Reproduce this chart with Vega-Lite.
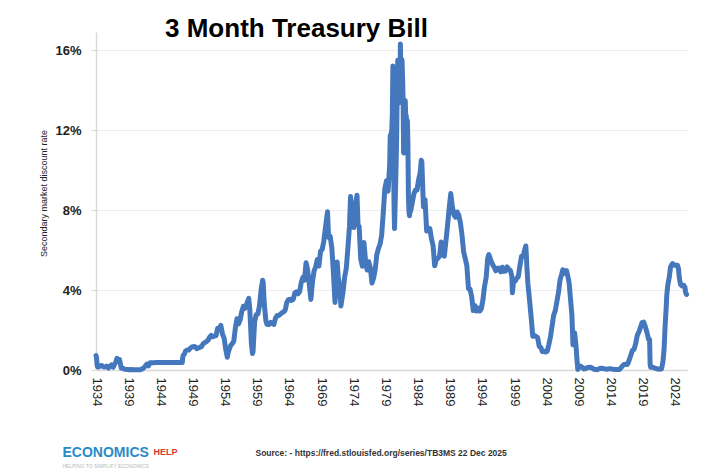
{
  "$schema": "https://vega.github.io/schema/vega-lite/v6.json",
  "width": 591,
  "height": 338,
  "autosize": {"type": "none"},
  "padding": {"left": 96, "top": 32, "right": 33, "bottom": 105},
  "background": "white",
  "title": {"text": "3 Month Treasury Bill", "font": "Liberation Sans", "fontSize": 26, "fontWeight": "bold", "color": "#000000", "anchor": "middle", "frame": "group", "dx": -95, "offset": -31, "baseline": "alphabetic"},
  "data": {"values": [
    {"t":1934.0,"r":0.72},{"t":1934.083,"r":0.62},{"t":1934.167,"r":0.24},{"t":1934.25,"r":0.15},{"t":1934.417,"r":0.15},{"t":1934.667,"r":0.21},{"t":1934.917,"r":0.23},
    {"t":1935.167,"r":0.15},{"t":1935.417,"r":0.15},{"t":1935.667,"r":0.20},{"t":1935.917,"r":0.10},
    {"t":1936.167,"r":0.18},{"t":1936.417,"r":0.26},{"t":1936.667,"r":0.14},{"t":1936.917,"r":0.30},
    {"t":1937.083,"r":0.41},{"t":1937.25,"r":0.58},{"t":1937.417,"r":0.41},{"t":1937.667,"r":0.52},{"t":1937.917,"r":0.10},
    {"t":1938.167,"r":0.09},{"t":1938.417,"r":0.04},{"t":1938.917,"r":0.03},
    {"t":1939.167,"r":0.01},{"t":1939.417,"r":0.02},{"t":1939.917,"r":0.01},
    {"t":1940.417,"r":0.01},{"t":1940.917,"r":0.01},
    {"t":1941.417,"r":0.10},{"t":1941.917,"r":0.29},
    {"t":1942.167,"r":0.21},{"t":1942.417,"r":0.36},{"t":1942.917,"r":0.36},
    {"t":1943.5,"r":0.37},{"t":1944.5,"r":0.37},{"t":1945.5,"r":0.37},{"t":1946.5,"r":0.37},{"t":1947.417,"r":0.38},
    {"t":1947.5,"r":0.66},{"t":1947.583,"r":0.74},{"t":1947.75,"r":0.80},{"t":1947.917,"r":0.95},
    {"t":1948.167,"r":1.00},{"t":1948.417,"r":1.00},{"t":1948.667,"r":1.09},{"t":1948.917,"r":1.15},
    {"t":1949.167,"r":1.17},{"t":1949.417,"r":1.16},{"t":1949.667,"r":1.07},{"t":1949.917,"r":1.10},
    {"t":1950.167,"r":1.14},{"t":1950.417,"r":1.17},{"t":1950.667,"r":1.32},{"t":1950.917,"r":1.37},
    {"t":1951.167,"r":1.42},{"t":1951.417,"r":1.49},{"t":1951.667,"r":1.64},{"t":1951.917,"r":1.73},
    {"t":1952.167,"r":1.66},{"t":1952.417,"r":1.70},{"t":1952.667,"r":1.71},{"t":1952.917,"r":2.09},
    {"t":1953.167,"r":2.08},{"t":1953.417,"r":2.23},{"t":1953.667,"r":1.79},{"t":1953.917,"r":1.60},
    {"t":1954.167,"r":1.05},{"t":1954.417,"r":0.64},{"t":1954.583,"r":0.92},{"t":1954.917,"r":1.21},
    {"t":1955.167,"r":1.31},{"t":1955.417,"r":1.43},{"t":1955.667,"r":2.09},{"t":1955.917,"r":2.56},
    {"t":1956.167,"r":2.31},{"t":1956.417,"r":2.51},{"t":1956.667,"r":2.92},{"t":1956.917,"r":3.18},
    {"t":1957.167,"r":3.08},{"t":1957.417,"r":3.29},{"t":1957.75,"r":3.58},{"t":1957.917,"r":3.04},
    {"t":1958.167,"r":1.30},{"t":1958.333,"r":0.83},{"t":1958.417,"r":0.91},{"t":1958.667,"r":2.43},{"t":1958.917,"r":2.77},
    {"t":1959.167,"r":2.80},{"t":1959.417,"r":3.20},{"t":1959.667,"r":3.99},{"t":1959.917,"r":4.49},
    {"t":1960.0,"r":4.35},{"t":1960.167,"r":3.31},{"t":1960.417,"r":2.46},{"t":1960.583,"r":2.29},{"t":1960.917,"r":2.27},
    {"t":1961.167,"r":2.38},{"t":1961.417,"r":2.33},{"t":1961.667,"r":2.28},{"t":1961.917,"r":2.60},
    {"t":1962.167,"r":2.72},{"t":1962.417,"r":2.73},{"t":1962.667,"r":2.79},{"t":1962.917,"r":2.86},
    {"t":1963.167,"r":2.90},{"t":1963.417,"r":2.99},{"t":1963.667,"r":3.38},{"t":1963.917,"r":3.52},
    {"t":1964.167,"r":3.54},{"t":1964.417,"r":3.48},{"t":1964.667,"r":3.53},{"t":1964.917,"r":3.85},
    {"t":1965.167,"r":3.91},{"t":1965.417,"r":3.81},{"t":1965.667,"r":3.92},{"t":1965.917,"r":4.38},
    {"t":1966.167,"r":4.63},{"t":1966.417,"r":4.50},{"t":1966.667,"r":5.36},{"t":1966.917,"r":5.00},
    {"t":1967.167,"r":4.26},{"t":1967.417,"r":3.53},{"t":1967.667,"r":4.42},{"t":1967.917,"r":4.96},
    {"t":1968.167,"r":5.17},{"t":1968.417,"r":5.52},{"t":1968.667,"r":5.20},{"t":1968.917,"r":5.94},
    {"t":1969.167,"r":6.02},{"t":1969.417,"r":6.43},{"t":1969.667,"r":7.09},{"t":1969.917,"r":7.72},
    {"t":1970.0,"r":7.91},{"t":1970.167,"r":6.63},{"t":1970.417,"r":6.68},{"t":1970.667,"r":6.12},{"t":1970.917,"r":4.87},
    {"t":1971.167,"r":3.38},{"t":1971.5,"r":5.40},{"t":1971.667,"r":4.69},{"t":1971.917,"r":4.01},
    {"t":1972.083,"r":3.20},{"t":1972.417,"r":3.91},{"t":1972.667,"r":4.66},{"t":1972.917,"r":5.07},
    {"t":1973.167,"r":6.09},{"t":1973.417,"r":7.19},{"t":1973.583,"r":8.67},{"t":1973.667,"r":8.29},{"t":1973.917,"r":7.45},
    {"t":1974.083,"r":7.12},{"t":1974.167,"r":7.96},{"t":1974.333,"r":8.23},{"t":1974.583,"r":8.74},{"t":1974.75,"r":7.24},{"t":1974.917,"r":7.18},
    {"t":1975.167,"r":5.54},{"t":1975.417,"r":5.19},{"t":1975.667,"r":6.38},{"t":1975.917,"r":5.44},
    {"t":1976.167,"r":5.00},{"t":1976.417,"r":5.41},{"t":1976.667,"r":5.08},{"t":1976.917,"r":4.35},
    {"t":1977.167,"r":4.60},{"t":1977.417,"r":5.02},{"t":1977.667,"r":5.77},{"t":1977.917,"r":6.07},
    {"t":1978.167,"r":6.29},{"t":1978.417,"r":6.73},{"t":1978.667,"r":7.85},{"t":1978.917,"r":9.08},
    {"t":1979.167,"r":9.46},{"t":1979.417,"r":8.94},{"t":1979.667,"r":10.26},{"t":1979.75,"r":11.70},{"t":1979.917,"r":11.84},
    {"t":1980.0,"r":12.00},{"t":1980.083,"r":12.86},{"t":1980.167,"r":15.20},{"t":1980.25,"r":13.20},{"t":1980.333,"r":8.58},{"t":1980.417,"r":7.07},{"t":1980.5,"r":8.06},{"t":1980.583,"r":9.13},{"t":1980.667,"r":10.27},{"t":1980.75,"r":11.62},{"t":1980.833,"r":13.73},{"t":1980.917,"r":15.49},
    {"t":1981.0,"r":15.02},{"t":1981.083,"r":14.79},{"t":1981.167,"r":13.36},{"t":1981.25,"r":13.69},{"t":1981.333,"r":16.30},{"t":1981.417,"r":14.73},{"t":1981.5,"r":14.95},{"t":1981.583,"r":15.51},{"t":1981.667,"r":14.70},{"t":1981.75,"r":13.54},{"t":1981.833,"r":10.86},{"t":1981.917,"r":10.85},
    {"t":1982.0,"r":12.28},{"t":1982.083,"r":13.48},{"t":1982.167,"r":12.68},{"t":1982.25,"r":12.70},{"t":1982.333,"r":12.09},{"t":1982.417,"r":12.47},{"t":1982.5,"r":11.35},{"t":1982.583,"r":8.68},{"t":1982.667,"r":7.92},{"t":1982.75,"r":7.71},{"t":1982.833,"r":8.07},{"t":1982.917,"r":7.94},
    {"t":1983.167,"r":8.35},{"t":1983.417,"r":8.79},{"t":1983.667,"r":9.00},{"t":1983.917,"r":9.00},
    {"t":1984.167,"r":9.52},{"t":1984.417,"r":9.87},{"t":1984.583,"r":10.49},{"t":1984.667,"r":10.41},{"t":1984.917,"r":8.16},
    {"t":1985.167,"r":8.52},{"t":1985.417,"r":6.95},{"t":1985.667,"r":7.10},{"t":1985.917,"r":7.07},
    {"t":1986.167,"r":6.56},{"t":1986.417,"r":6.21},{"t":1986.667,"r":5.21},{"t":1986.917,"r":5.53},
    {"t":1987.167,"r":5.59},{"t":1987.417,"r":5.69},{"t":1987.667,"r":6.40},{"t":1987.917,"r":5.77},
    {"t":1988.167,"r":5.70},{"t":1988.417,"r":6.46},{"t":1988.667,"r":7.24},{"t":1988.917,"r":8.07},
    {"t":1989.167,"r":8.82},{"t":1989.417,"r":8.15},{"t":1989.667,"r":7.75},{"t":1989.917,"r":7.64},
    {"t":1990.167,"r":7.90},{"t":1990.417,"r":7.73},{"t":1990.667,"r":7.36},{"t":1990.917,"r":6.74},
    {"t":1991.167,"r":5.91},{"t":1991.417,"r":5.57},{"t":1991.667,"r":5.22},{"t":1991.917,"r":4.07},
    {"t":1992.167,"r":4.04},{"t":1992.417,"r":3.66},{"t":1992.667,"r":2.97},{"t":1992.917,"r":3.22},
    {"t":1993.167,"r":2.95},{"t":1993.417,"r":3.10},{"t":1993.667,"r":2.95},{"t":1993.917,"r":3.06},
    {"t":1994.167,"r":3.50},{"t":1994.417,"r":4.18},{"t":1994.667,"r":4.62},{"t":1994.917,"r":5.60},
    {"t":1995.083,"r":5.77},{"t":1995.417,"r":5.47},{"t":1995.667,"r":5.28},{"t":1995.917,"r":5.14},
    {"t":1996.167,"r":4.96},{"t":1996.417,"r":5.09},{"t":1996.667,"r":5.09},{"t":1996.917,"r":4.91},
    {"t":1997.167,"r":5.14},{"t":1997.417,"r":4.93},{"t":1997.667,"r":4.95},{"t":1997.917,"r":5.16},
    {"t":1998.167,"r":5.03},{"t":1998.417,"r":4.99},{"t":1998.667,"r":4.68},{"t":1998.75,"r":3.86},{"t":1998.917,"r":4.39},
    {"t":1999.167,"r":4.45},{"t":1999.417,"r":4.57},{"t":1999.667,"r":4.68},{"t":1999.917,"r":5.20},
    {"t":2000.167,"r":5.69},{"t":2000.417,"r":5.69},{"t":2000.667,"r":6.00},{"t":2000.833,"r":6.20},{"t":2000.917,"r":5.77},
    {"t":2001.0,"r":5.15},{"t":2001.167,"r":4.30},{"t":2001.417,"r":3.49},{"t":2001.667,"r":2.64},{"t":2001.917,"r":1.69},
    {"t":2002.167,"r":1.73},{"t":2002.417,"r":1.67},{"t":2002.667,"r":1.63},{"t":2002.917,"r":1.19},
    {"t":2003.167,"r":1.13},{"t":2003.417,"r":0.92},{"t":2003.667,"r":0.94},{"t":2003.917,"r":0.90},
    {"t":2004.167,"r":0.94},{"t":2004.417,"r":1.27},{"t":2004.667,"r":1.65},{"t":2004.917,"r":2.19},
    {"t":2005.167,"r":2.74},{"t":2005.417,"r":2.97},{"t":2005.667,"r":3.42},{"t":2005.917,"r":3.89},
    {"t":2006.167,"r":4.51},{"t":2006.417,"r":4.79},{"t":2006.583,"r":5.01},{"t":2006.917,"r":4.85},
    {"t":2007.167,"r":4.97},{"t":2007.417,"r":4.61},{"t":2007.583,"r":4.32},{"t":2007.667,"r":3.99},{"t":2007.917,"r":3.07},
    {"t":2008.0,"r":2.75},{"t":2008.167,"r":1.26},{"t":2008.417,"r":1.86},{"t":2008.667,"r":1.13},{"t":2008.75,"r":0.67},{"t":2008.917,"r":0.03},
    {"t":2009.167,"r":0.21},{"t":2009.417,"r":0.18},{"t":2009.667,"r":0.12},{"t":2009.917,"r":0.05},
    {"t":2010.417,"r":0.12},{"t":2010.917,"r":0.14},
    {"t":2011.417,"r":0.04},{"t":2011.917,"r":0.01},
    {"t":2012.417,"r":0.09},{"t":2012.917,"r":0.07},
    {"t":2013.417,"r":0.04},{"t":2013.917,"r":0.07},
    {"t":2014.417,"r":0.04},{"t":2014.917,"r":0.03},
    {"t":2015.417,"r":0.02},{"t":2015.917,"r":0.23},
    {"t":2016.167,"r":0.29},{"t":2016.417,"r":0.27},{"t":2016.667,"r":0.29},{"t":2016.917,"r":0.51},
    {"t":2017.167,"r":0.74},{"t":2017.417,"r":0.98},{"t":2017.667,"r":1.03},{"t":2017.917,"r":1.32},
    {"t":2018.167,"r":1.73},{"t":2018.417,"r":1.90},{"t":2018.667,"r":2.13},{"t":2018.917,"r":2.37},
    {"t":2019.167,"r":2.40},{"t":2019.417,"r":2.17},{"t":2019.667,"r":1.89},{"t":2019.917,"r":1.54},
    {"t":2020.0,"r":1.52},{"t":2020.083,"r":1.52},{"t":2020.167,"r":0.29},{"t":2020.25,"r":0.14},{"t":2020.417,"r":0.16},{"t":2020.917,"r":0.09},
    {"t":2021.417,"r":0.04},{"t":2021.917,"r":0.05},
    {"t":2022.0,"r":0.15},{"t":2022.167,"r":0.44},{"t":2022.333,"r":1.02},{"t":2022.5,"r":2.23},{"t":2022.667,"r":3.13},{"t":2022.75,"r":3.72},{"t":2022.917,"r":4.25},
    {"t":2023.167,"r":4.69},{"t":2023.333,"r":5.14},{"t":2023.5,"r":5.25},{"t":2023.667,"r":5.32},{"t":2023.917,"r":5.24},
    {"t":2024.167,"r":5.24},{"t":2024.417,"r":5.24},{"t":2024.583,"r":5.05},{"t":2024.667,"r":4.72},{"t":2024.75,"r":4.51},{"t":2024.917,"r":4.27},
    {"t":2025.167,"r":4.20},{"t":2025.417,"r":4.23},{"t":2025.583,"r":4.14},{"t":2025.667,"r":3.92},{"t":2025.75,"r":3.82},{"t":2025.833,"r":3.78}
  ]},
  "layer": [
    {
      "mark": {"type": "line", "color": "#4577bd", "strokeWidth": 5, "strokeJoin": "round", "strokeCap": "round"},
      "encoding": {
        "x": {"field": "t", "type": "quantitative",
          "scale": {"domain": [1934, 2025.9], "nice": false, "zero": false},
          "axis": {"orient": "bottom", "values": [1934,1939,1944,1949,1954,1959,1964,1969,1974,1979,1984,1989,1994,1999,2004,2009,2014,2019,2024],
            "format": "d", "labelAngle": 90, "labelFontSize": 13, "labelColor": "#222222", "labelPadding": 7,
            "labelOverlap": false, "labelFlush": false, "ticks": false, "grid": false,
            "domainColor": "#d9d9d9", "domainWidth": 1.5,
            "title": "Source: - https://fred.stlouisfed.org/series/TB3MS 22 Dec 2025",
            "titleX": 159, "titleY": 82, "titleAlign": "left", "titleBaseline": "middle",
            "titleFontSize": 8.5, "titleFontWeight": "bold", "titleColor": "#333333"}},
        "y": {"field": "r", "type": "quantitative",
          "scale": {"domain": [0, 16.9], "nice": false},
          "axis": {"orient": "left", "values": [0, 4, 8, 12, 16], "labelExpr": "datum.value + '%'",
            "labelFontSize": 13, "labelFontWeight": "bold", "labelColor": "#222222",
            "tickSize": 5, "tickColor": "#d9d9d9", "labelPadding": 10,
            "domainColor": "#d9d9d9", "domainWidth": 1.5, "grid": true, "gridColor": "#ececec",
            "title": "Secondary market discount rate", "titleX": -53, "titleY": 161, "titleAngle": -90,
            "titleAlign": "center", "titleBaseline": "middle", "titleFontSize": 9,
            "titleFontWeight": "normal", "titleColor": "#222222"}}
      }
    },
    {
      "mark": {"type": "line", "opacity": 0},
      "encoding": {
        "x": {"field": "t", "type": "quantitative",
          "scale": {"domain": [1934, 2025.9], "nice": false, "zero": false},
          "axis": {"orient": "bottom", "labels": false, "ticks": false, "domain": false, "grid": false,
            "title": "ECONOMICS", "titleX": -34, "titleY": 82, "titleAlign": "left", "titleBaseline": "middle",
            "titleFontSize": 14, "titleFontWeight": "bold", "titleColor": "#2a8ac6"}}
      }
    },
    {
      "mark": {"type": "line", "opacity": 0},
      "encoding": {
        "x": {"field": "t", "type": "quantitative",
          "scale": {"domain": [1934, 2025.9], "nice": false, "zero": false},
          "axis": {"orient": "bottom", "labels": false, "ticks": false, "domain": false, "grid": false,
            "title": "HELP", "titleX": 57, "titleY": 81, "titleAlign": "left", "titleBaseline": "middle",
            "titleFontSize": 9, "titleFontWeight": "bold", "titleColor": "#d23c32"}}
      }
    },
    {
      "mark": {"type": "line", "opacity": 0},
      "encoding": {
        "x": {"field": "t", "type": "quantitative",
          "scale": {"domain": [1934, 2025.9], "nice": false, "zero": false},
          "axis": {"orient": "bottom", "labels": false, "ticks": false, "domain": false, "grid": false,
            "title": "HELPING TO SIMPLIFY ECONOMICS", "titleX": -34, "titleY": 95, "titleAlign": "left", "titleBaseline": "middle",
            "titleFontSize": 5, "titleFontWeight": "normal", "titleColor": "#b8b8b8"}}
      }
    }
  ],
  "resolve": {"axis": {"x": "independent"}},
  "config": {"view": {"stroke": null}, "font": "Liberation Sans"}
}
